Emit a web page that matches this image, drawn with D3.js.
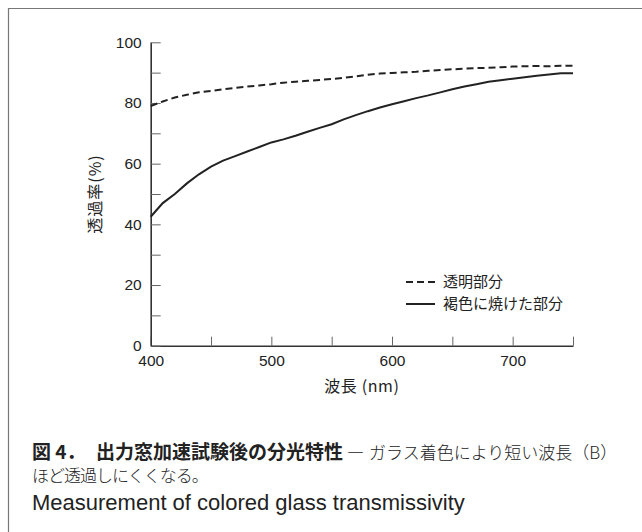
<!DOCTYPE html>
<html lang="ja">
<head>
  <meta charset="utf-8">
  <title>出力窓加速試験後の分光特性</title>
  <script src="https://cdn.jsdelivr.net/npm/d3@7"></script>
  <style>
    body {
      margin: 0;
      background: #fff;
    }

    svg {
      display: block;
    }

    .axis text {
      font-family: "Liberation Sans", Arial, sans-serif;
      font-size: 15.5px;
      fill: #222;
    }

    .axis .tick line {
      stroke: #666;
      stroke-width: 1;
    }

    .axis path.domain {
      stroke: #333;
      stroke-width: 1.6;
    }

    .jp {
      font-family: "Noto Sans CJK JP", sans-serif;
      fill: #222;
    }
  </style>
</head>
<body>

<svg width="642" height="532"></svg>

<script>
// wavelength (nm)
var wavelength = [400, 410, 420, 430, 440, 450, 460, 470, 480, 490,
                  500, 510, 520, 530, 540, 550, 560, 570, 580, 590,
                  600, 610, 620, 630, 640, 650, 660, 670, 680, 690,
                  700, 710, 720, 730, 740, 750];

// 透明部分 transmittance (%)
var clearPart = [79.0, 80.5, 81.8, 82.7, 83.5, 84.0, 84.5, 85.0, 85.4, 85.8,
                 86.2, 86.7, 87.0, 87.3, 87.6, 87.9, 88.3, 88.8, 89.3, 89.7,
                 89.9, 90.1, 90.3, 90.6, 90.9, 91.1, 91.3, 91.5, 91.6, 91.8,
                 92.0, 92.1, 92.2, 92.1, 92.3, 92.3];

// 褐色に焼けた部分 transmittance (%)
var brownPart = [42.5, 47.0, 50.0, 53.5, 56.5, 59.0, 61.0, 62.5, 64.0, 65.5,
                 67.0, 68.0, 69.2, 70.5, 71.8, 73.0, 74.6, 76.0, 77.3, 78.5,
                 79.6, 80.6, 81.6, 82.5, 83.5, 84.5, 85.4, 86.2, 87.0, 87.5,
                 88.0, 88.5, 89.0, 89.4, 89.8, 89.8];

var xTicks = [400, 450, 500, 550, 600, 650, 700, 750];
var yTicks = [0, 10, 20, 30, 40, 50, 60, 70, 80, 90, 100];

var legendNames = ["透明部分", "褐色に焼けた部分"];

var svg = d3.select("svg");

// frame: only top and left edges
svg.append("path")
    .attr("d", "M8.5,532V8.5H642")
    .attr("fill", "none")
    .attr("stroke", "#777")
    .attr("stroke-width", 1.2);

var x = d3.scaleLinear().domain([400, 750]).range([150.7, 573]);
var y = d3.scaleLinear().domain([0, 100]).range([345.7, 42.3]);

var xAxis = d3.axisBottom(x)
    .tickValues(xTicks)
    .tickSize(-9)
    .tickSizeOuter(0)
    .tickPadding(9)
    .tickFormat(function(d) { return d % 100 === 0 ? d : ""; });

var yAxis = d3.axisLeft(y)
    .tickValues(yTicks)
    .tickSize(-10)
    .tickSizeOuter(0)
    .tickPadding(9)
    .tickFormat(function(d) { return d % 20 === 0 ? d : ""; });

svg.append("g")
    .attr("class", "axis")
    .attr("transform", "translate(0," + y(0) + ")")
    .call(xAxis);

svg.append("g")
    .attr("class", "axis")
    .attr("transform", "translate(" + x(400) + ",0)")
    .call(yAxis);

// axis titles
svg.append("text")
    .attr("class", "jp")
    .attr("transform", "translate(101," + y(50) + ") rotate(-90)")
    .attr("text-anchor", "middle")
    .style("font-size", "16px")
    .style("letter-spacing", "1px")
    .text("透過率(%)");

svg.append("text")
    .attr("class", "jp")
    .attr("x", (x(400) + x(750)) / 2)
    .attr("y", 392)
    .attr("text-anchor", "middle")
    .style("font-size", "16px")
    .style("letter-spacing", "0.6px")
    .text("波長 (nm)");

// curves
var line = d3.line()
    .x(function(d) { return x(d[0]); })
    .y(function(d) { return y(d[1]); });

svg.append("path")
    .datum(d3.zip(wavelength, clearPart))
    .attr("fill", "none")
    .attr("stroke", "#222")
    .attr("stroke-width", 2)
    .attr("stroke-dasharray", "7,4")
    .attr("d", line);

svg.append("path")
    .datum(d3.zip(wavelength, brownPart))
    .attr("fill", "none")
    .attr("stroke", "#222")
    .attr("stroke-width", 2)
    .attr("d", line);

// legend
var legend = svg.append("g").attr("transform", "translate(406,282)");

legend.selectAll("line")
    .data(legendNames)
    .enter().append("line")
      .attr("x1", 0)
      .attr("x2", 29)
      .attr("y1", function(d, i) { return i * 22; })
      .attr("y2", function(d, i) { return i * 22; })
      .attr("stroke", "#222")
      .attr("stroke-width", 2)
      .attr("stroke-dasharray", function(d, i) { return i === 0 ? "7,4" : null; });

legend.selectAll("text")
    .data(legendNames)
    .enter().append("text")
      .attr("class", "jp")
      .attr("x", 37)
      .attr("y", function(d, i) { return i * 22; })
      .attr("dy", "0.36em")
      .style("font-size", "15px")
      .text(function(d) { return d; });

// caption
var cap = svg.append("text")
    .attr("class", "jp")
    .attr("y", 459);

cap.append("tspan")
    .attr("x", 32)
    .style("font-weight", "bold")
    .style("font-size", "19px")
    .text("図 4．");

cap.append("tspan")
    .attr("x", 96)
    .style("font-weight", "bold")
    .style("font-size", "19px")
    .text("出力窓加速試験後の分光特性");

cap.append("tspan")
    .attr("x", 347)
    .style("font-size", "17px")
    .text("—");

cap.append("tspan")
    .attr("x", 369)
    .style("font-size", "17px")
    .style("font-weight", "300")
    .text("ガラス着色により短い波長（B）");

svg.append("text")
    .attr("class", "jp")
    .attr("x", 32)
    .attr("y", 482)
    .style("font-size", "17px")
    .style("font-weight", "300")
    .style("letter-spacing", "-1px")
    .text("ほど透過しにくくなる。");

svg.append("text")
    .attr("x", 32)
    .attr("y", 510)
    .style("font-family", "'Liberation Sans', Arial, sans-serif")
    .style("font-size", "22px")
    .style("fill", "#222")
    .text("Measurement of colored glass transmissivity");
</script>

</body>
</html>
